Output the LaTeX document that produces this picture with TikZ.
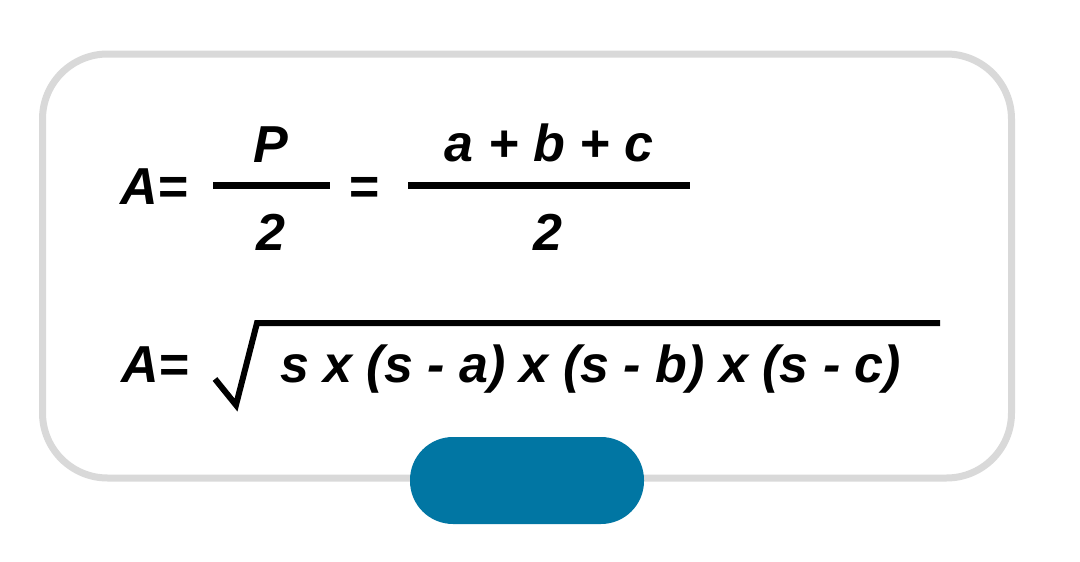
\documentclass[tikz,border=0pt]{standalone}
\usepackage{fontspec}
\setmainfont{Liberation Sans}
\definecolor{framegray}{RGB}{217,217,217}
\definecolor{pillblue}{RGB}{1,118,163}
\begin{document}
\begin{tikzpicture}[x=1pt,y=-1pt,
  eq/.style={inner sep=0pt,outer sep=0pt,font=\fontsize{52}{60}\selectfont\bfseries\itshape,text=black},
  bar/.style={line width=7pt,black},
  frame/.style={line width=7pt,draw=framegray,rounded corners=65pt},
  pill/.style={fill=pillblue,rounded corners=43pt}]
\useasboundingbox[fill=white] (0,0) rectangle (1080,562);
% outer frame
\draw[frame] (42.5,54) rectangle (1011.5,478);
% blue pill
\fill[pill] (410,437) rectangle (644,524);
% first row
\node[eq,anchor=base west] (a1) at (120,204) {A=};
\node[eq,anchor=base] (p) at (271,162) {P};
\node[eq,anchor=base] (two1) at (271,250) {2};
\coordinate (f1l) at (213,185.5);
\coordinate (f1r) at (330,185.5);
\draw[bar] (f1l) -- (f1r);
\node[eq,anchor=base] (eq2) at (364,204) {=};
\node[eq,anchor=base] (abc) at (549,161) {a + b + c};
\node[eq,anchor=base] (two2) at (548,250) {2};
\coordinate (f2l) at (408,185.5);
\coordinate (f2r) at (690,185.5);
\draw[bar] (f2l) -- (f2r);
% second row
\node[eq,anchor=base west] (a2) at (121,382) {A=};
\coordinate (r1) at (215,379);
\coordinate (r2) at (236,405);
\coordinate (r3) at (257,323);
\coordinate (r4) at (940,323);
\draw[line width=6pt,line join=miter,black] (r1) -- (r2) -- (r3) -- (r4);
\node[eq,anchor=base west] (rad) at (280,382) {s x (s - a) x (s - b) x (s - c)};
\end{tikzpicture}
\end{document}
